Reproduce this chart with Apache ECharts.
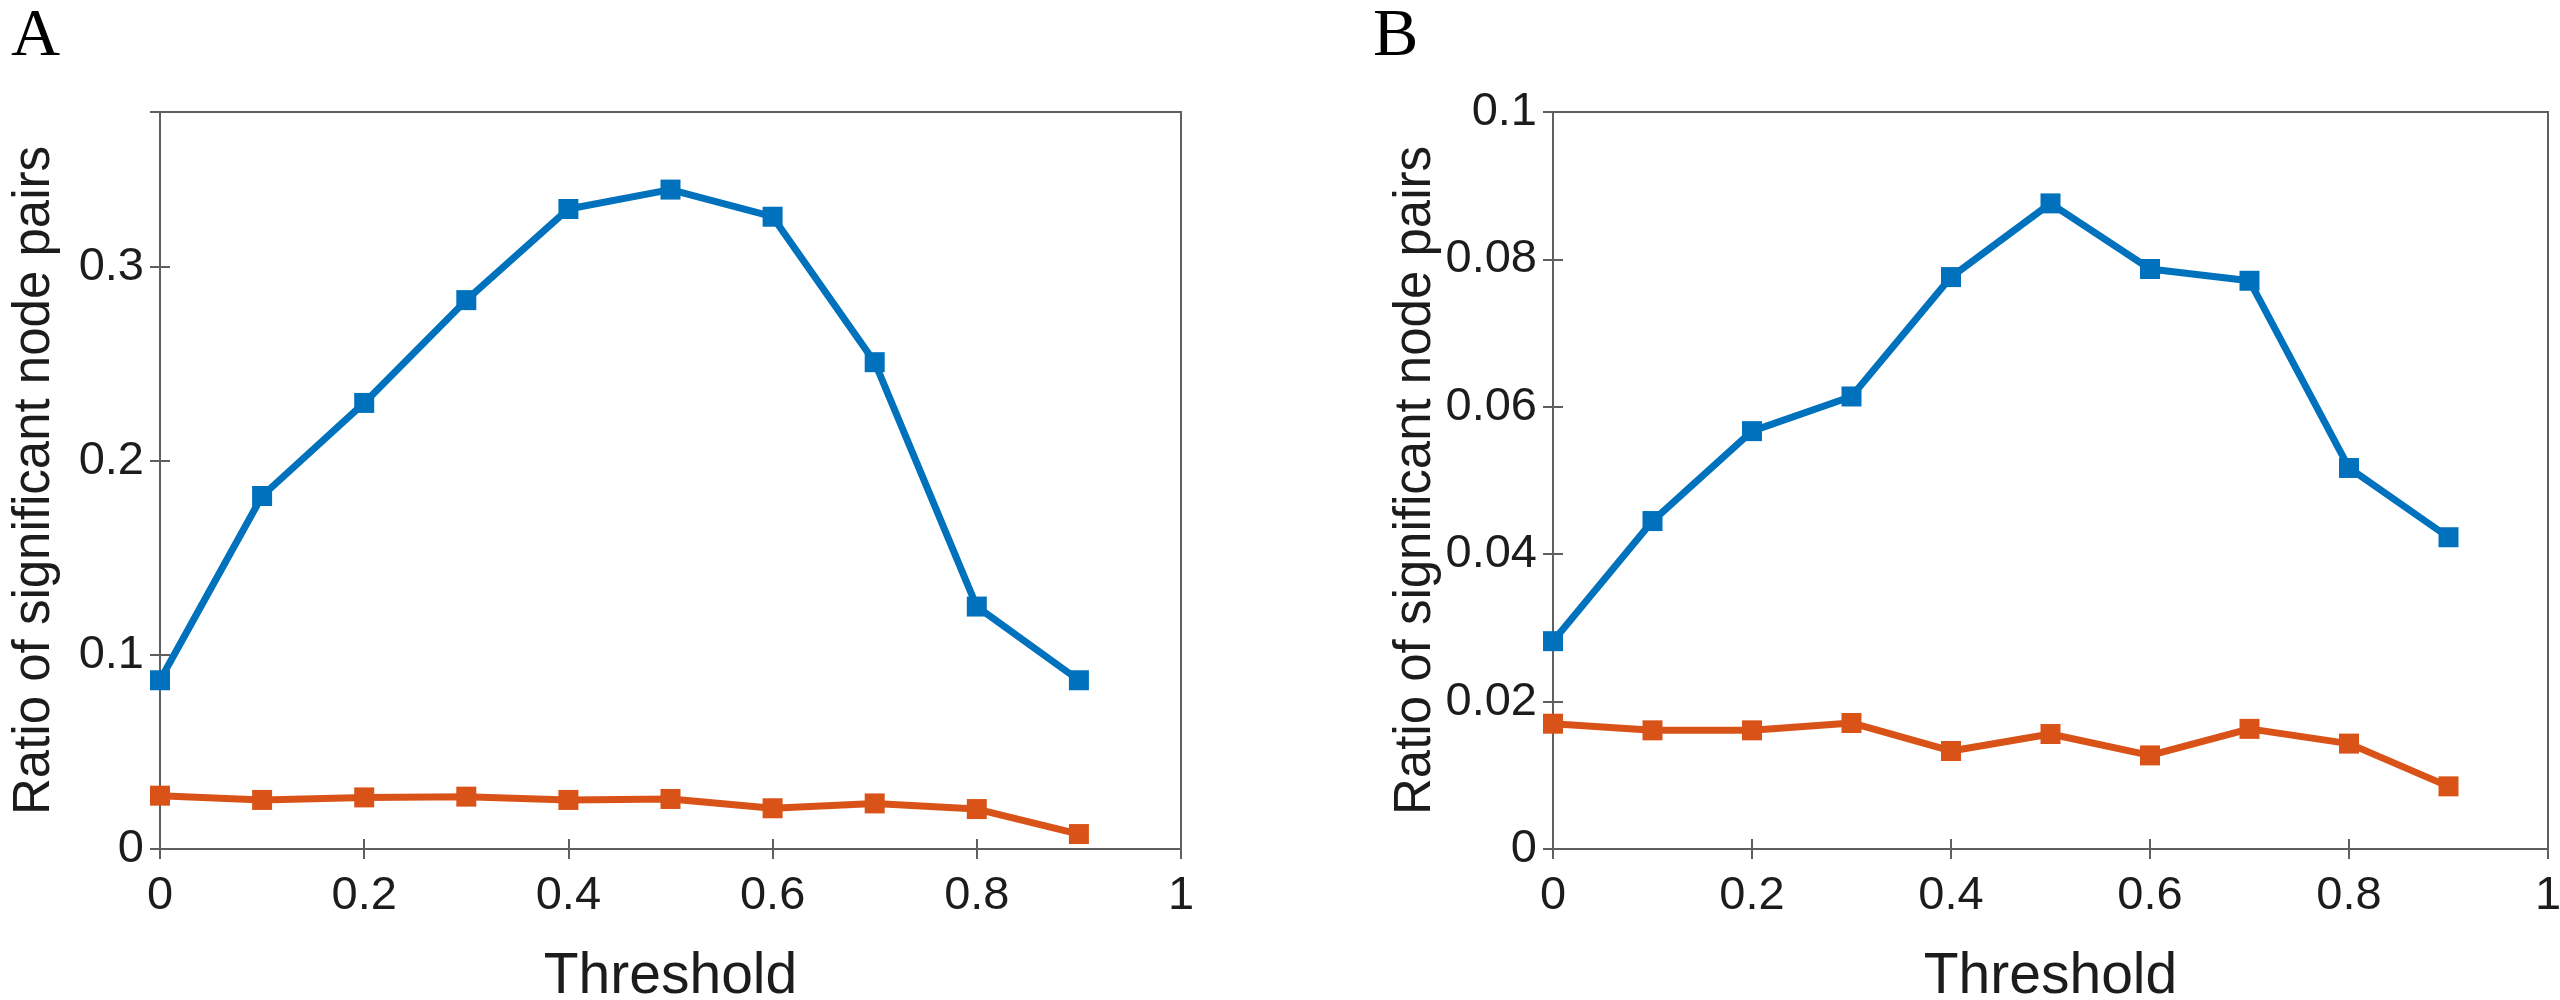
<!DOCTYPE html>
<html><head><meta charset="utf-8">
<script src="https://cdn.jsdelivr.net/npm/echarts@6/dist/echarts.min.js"></script>
<style>html,body{margin:0;padding:0;background:#fff}#c{width:2560px;height:1000px}</style>
</head><body><div id="c"></div>
<script>
// ---- data ----
const thresholds = [0, 0.1, 0.2, 0.3, 0.4, 0.5, 0.6, 0.7, 0.8, 0.9];
const panelA_blue   = [0.087, 0.182, 0.230, 0.283, 0.330, 0.340, 0.326, 0.251, 0.125, 0.087];
const panelA_orange = [0.0275, 0.0253, 0.0266, 0.0270, 0.0253, 0.0258, 0.0210, 0.0235, 0.0206, 0.0077];
const panelB_blue   = [0.0282, 0.0445, 0.0567, 0.0614, 0.0776, 0.0876, 0.0787, 0.0771, 0.0517, 0.0423];
const panelB_orange = [0.0170, 0.0161, 0.0161, 0.0171, 0.0133, 0.0156, 0.0127, 0.0163, 0.0143, 0.0085];
const xScale  = [0, 1, 0.2];        // min, max, interval
const yScaleA = [0, 0.38, 0.1];
const yScaleB = [0, 0.1, 0.02];
const panelLabels = ['A', 'B'];
const xTitle = 'Threshold';
const yTitle = 'Ratio of significant node pairs';

// ---- styling ----
const axisColor = '#5f5f5f';
const textColor = '#1c1c1c';
const font = 'Liberation Sans';
const blue = '#0072BD', orange = '#D95319';
const tickFont = 47, xTitleFont = 57, yTitleFont = 51;

const grids = [
  {left: 160, top: 112, width: 1021, height: 737},
  {left: 1553, top: 112, width: 995, height: 737}
];

function tickStyle(){ return {inside: true, length: 10, lineStyle: {color: axisColor, width: 2}}; }
function fmt(interval){
  return function(v){
    const k = v / interval;
    if (Math.abs(k - Math.round(k)) > 1e-6) return '';
    return String(+v.toFixed(4));
  };
}

const xAxis = [], yAxis = [], series = [];
const yScales = [yScaleA, yScaleB];
const seriesData = [[panelA_blue, panelA_orange], [panelB_blue, panelB_orange]];

for (let g = 0; g < 2; g++) {
  const ys = yScales[g];
  xAxis.push({
    type: 'value', gridIndex: g, position: 'bottom',
    min: xScale[0], max: xScale[1], interval: xScale[2],
    axisLine: {show: false}, axisTick: tickStyle(), splitLine: {show: false},
    axisLabel: {margin: 24, fontSize: tickFont, color: textColor, fontFamily: font, formatter: fmt(xScale[2])},
    name: xTitle, nameLocation: 'middle', nameGap: 100,
    nameTextStyle: {fontSize: xTitleFont, color: textColor, fontFamily: font}
  });
  xAxis.push({
    type: 'value', gridIndex: g, position: 'top',
    min: xScale[0], max: xScale[1], interval: xScale[2],
    axisLine: {show: false}, axisTick: tickStyle(), splitLine: {show: false},
    axisLabel: {show: false}
  });
  yAxis.push({
    type: 'value', gridIndex: g, position: 'left',
    min: ys[0], max: ys[1], interval: ys[2],
    axisLine: {show: false}, axisTick: tickStyle(), splitLine: {show: false},
    axisLabel: {margin: 16, fontSize: tickFont, color: textColor, fontFamily: font, formatter: fmt(ys[2])},
    name: yTitle, nameLocation: 'middle', nameGap: 100,
    nameTextStyle: {fontSize: yTitleFont, color: textColor, fontFamily: font}
  });
  yAxis.push({
    type: 'value', gridIndex: g, position: 'right',
    min: ys[0], max: ys[1], interval: ys[2],
    axisLine: {show: false}, axisTick: tickStyle(), splitLine: {show: false},
    axisLabel: {show: false}
  });
  const colors = [blue, orange];
  for (let s = 0; s < 2; s++) {
    series.push({
      type: 'line', xAxisIndex: g * 2, yAxisIndex: g * 2,
      data: thresholds.map((t, i) => [t, seriesData[g][s][i]]),
      symbol: 'rect', symbolSize: 20,
      lineStyle: {color: colors[s], width: 7},
      itemStyle: {color: colors[s]},
      z: 3 + (1 - s)
    });
  }
}

const chart = echarts.init(document.getElementById('c'), null, {renderer: 'canvas'});
chart.setOption({
  animation: false,
  backgroundColor: '#fff',
  title: [
    {text: panelLabels[0], left: 6, top: -2, textStyle: {fontFamily: 'Liberation Serif', fontSize: 68, fontWeight: 'normal', color: '#000'}},
    {text: panelLabels[1], left: 1368, top: -2, textStyle: {fontFamily: 'Liberation Serif', fontSize: 68, fontWeight: 'normal', color: '#000'}}
  ],
  grid: grids.map(g => Object.assign({show: true, borderColor: axisColor, borderWidth: 2, backgroundColor: 'transparent', containLabel: false, outerBoundsMode: 'none'}, g)),
  xAxis: xAxis,
  yAxis: yAxis,
  series: series
});
</script>
</body></html>
